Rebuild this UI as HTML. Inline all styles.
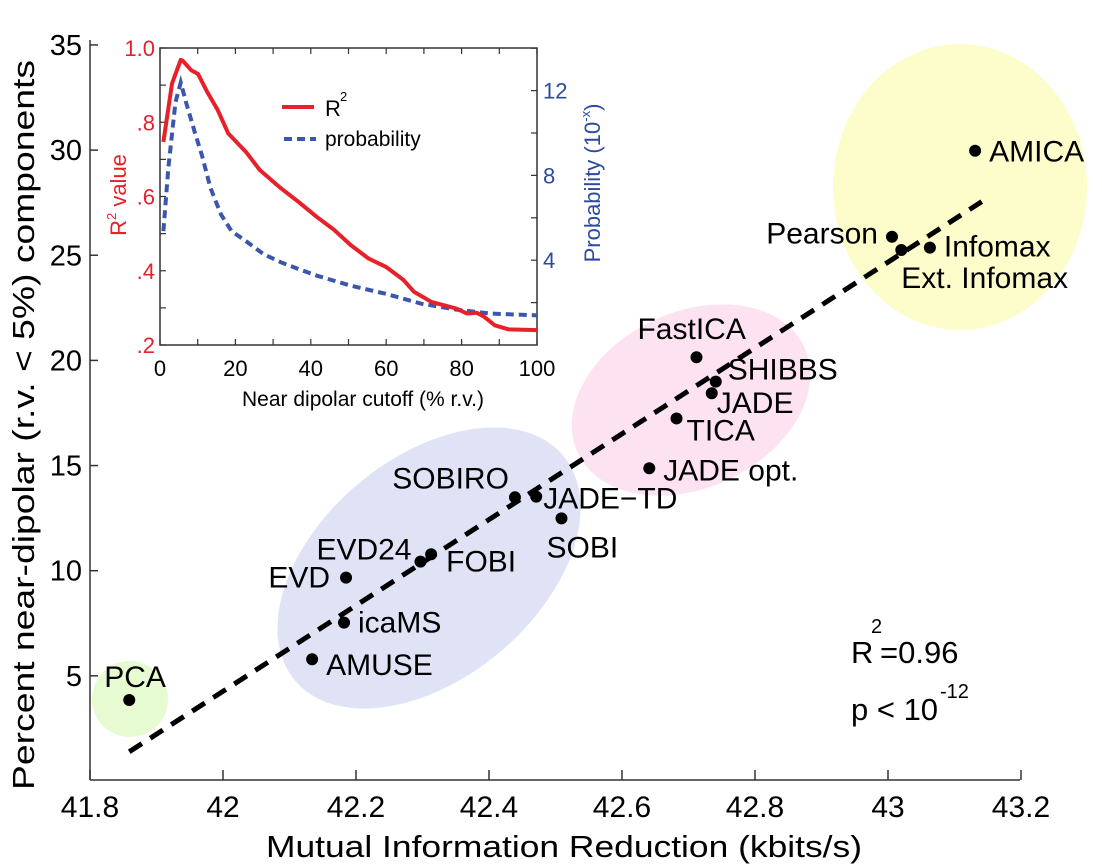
<!DOCTYPE html>
<html><head><meta charset="utf-8"><style>
html,body{margin:0;padding:0;background:#fff;}
svg{display:block;font-family:"Liberation Sans",Arial,sans-serif;}
</style></head><body>
<svg id="chart" width="1102" height="864" viewBox="0 0 1102 864" xmlns="http://www.w3.org/2000/svg">
<g id="clusters">
  <ellipse cx="960" cy="187" rx="127" ry="143" fill="#fdfdcb"/>
  <ellipse cx="691" cy="400" rx="125" ry="88" transform="rotate(-25 691 400)" fill="#fde2f2"/>
  <ellipse cx="429" cy="568" rx="175" ry="110" transform="rotate(-40 429 568)" fill="#dfe3f5"/>
  <ellipse cx="130" cy="699" rx="38" ry="38" fill="#e6fbd1"/>
</g>
<g id="main-axes"></g>
<g id="main-marks"></g>
<g id="inset"></g>
<text x="564" y="857" font-size="31" text-anchor="middle" fill="#000" textLength="596" lengthAdjust="spacingAndGlyphs">Mutual Information Reduction (kbits/s)</text>
<text transform="translate(34 425) rotate(-90)" font-size="31" text-anchor="middle" fill="#000" textLength="730" lengthAdjust="spacingAndGlyphs">Percent near-dipolar (r.v. &lt; 5%) components</text>
<g font-size="31" fill="#000">
  <text x="851" y="663">R</text>
  <text x="871" y="633" font-size="20">2</text>
  <text x="880" y="663">=0.96</text>
  <text x="851" y="720">p &lt; 10</text>
  <text x="940" y="698" font-size="20">-12</text>
</g>
</svg>
<script>
// ---- main scatter data ----
const methods = ["AMICA","Pearson","Ext. Infomax","Infomax","FastICA","SHIBBS","JADE","TICA","JADE opt.","PCA","AMUSE","icaMS","EVD","EVD24","FOBI","SOBIRO","JADE\u2212TD","SOBI"];
const mirValues = [43.131,43.006,43.020,43.063,42.712,42.741,42.735,42.682,42.641,41.859,42.134,42.182,42.185,42.297,42.313,42.439,42.471,42.509];
const dipolarValues = [29.97,25.88,25.25,25.36,20.15,18.99,18.44,17.24,14.87,3.85,5.79,7.53,9.67,10.43,10.78,13.49,13.52,12.49];
const fitX = [41.859,43.141];
const fitY = [1.39,27.55];
const xTicks = [41.8,42,42.2,42.4,42.6,42.8,43,43.2];
const xTickLabels = ["41.8","42","42.2","42.4","42.6","42.8","43","43.2"];
const yTicks = [5,10,15,20,25,30,35];
const yTickLabels = ["5","10","15","20","25","30","35"];
// ---- inset data ----
const r2Cutoff = [0.9,3.2,5.5,6,8.3,10.1,12.5,15.3,18.1,22.8,26.5,32.1,36.8,41.6,46.2,50.6,55.3,60,64.6,67.4,72,78.6,81.4,84,86,88.8,92.5,100];
const r2Values = [0.747,0.905,0.968,0.966,0.94,0.93,0.882,0.833,0.77,0.72,0.671,0.622,0.585,0.545,0.51,0.469,0.433,0.41,0.375,0.343,0.316,0.298,0.285,0.287,0.276,0.253,0.242,0.24];
const probCutoff = [0.9,2.2,4.1,5.5,6.9,9.2,11.1,13.4,16.2,19,22.8,27.5,32.1,36.8,41.6,50.6,60,69.3,78.6,87.9,100];
const probValues = [5.37,8.33,11.45,12.38,11.45,10.05,8.96,7.4,6.15,5.37,4.9,4.28,3.9,3.58,3.27,2.8,2.41,1.95,1.67,1.48,1.4];
const insetXTicks = [0,20,40,60,80,100];
const insetLeftTicks = [0.2,0.4,0.6,0.8,1.0];
const insetLeftLabels = [".2",".4",".6",".8","1.0"];
const insetRightTicks = [4,8,12];

const NS="http://www.w3.org/2000/svg";
function mk(tag, parent, attrs){const e=document.createElementNS(NS,tag);for(const k in attrs)e.setAttribute(k,attrs[k]);parent.appendChild(e);return e;}
const X=v=>90+(v-41.8)*665;
const Y=v=>781-v*21.03;
const IX=v=>160+v*3.77;
const IYL=v=>345-(v-0.2)*371.25;
const IYR=v=>345-v*21.2;

// label placements (layout only)
const labelLayout = [[14,11,"start"],[-14,7,"end"],[0,38,"start"],[14,9,"start"],[-59,-18,"start"],[12,-2,"start"],[5,20,"start"],[10,22,"start"],[14,12,"start"],[-25,-13,"start"],[14,16,"start"],[14,10,"start"],[-16,10,"end"],[-9,-2,"end"],[15,17,"start"],[-6,-9,"end"],[7,12,"start"],[-15,39,"start"]];

const ax=document.getElementById('main-axes');
let l=mk('line',ax,{x1:90,y1:780,x2:1020,y2:780,stroke:'#333','stroke-width':1.5});


l=mk('line',ax,{x1:90,y1:40,x2:90,y2:780,stroke:'#333','stroke-width':1.5});


xTicks.forEach((t,i)=>{
  const x=X(t);
  const tk=mk('line',ax,{x1:x,y1:780,x2:x,y2:770,stroke:'#333','stroke-width':1.5});
  
  
  const tx=mk('text',ax,{x:x,y:817,'font-size':30,'text-anchor':'middle',fill:'#000'});
  tx.textContent=xTickLabels[i];
  
  
});
yTicks.forEach((t,i)=>{
  const y=Y(t);
  const tk=mk('line',ax,{x1:90,y1:y,x2:98,y2:y,stroke:'#333','stroke-width':1.5});
  
  
  const tx=mk('text',ax,{x:82,y:y+10,'font-size':29,'text-anchor':'end',fill:'#000'});
  tx.textContent=yTickLabels[i];
  
  
});

const mm=document.getElementById('main-marks');
const fit=mk('line',mm,{x1:X(fitX[0]),y1:Y(fitY[0]),x2:X(fitX[1]),y2:Y(fitY[1]),stroke:'#000','stroke-width':5,'stroke-dasharray':'15 10'});


methods.forEach((m,i)=>{
  const cx=X(mirValues[i]), cy=Y(dipolarValues[i]);
  const c=mk('circle',mm,{cx:cx,cy:cy,r:6,fill:'#000'});
  
  
  const L=labelLayout[i];
  const t=mk('text',mm,{x:cx+L[0],y:cy+L[1],'font-size':30,'text-anchor':L[2],fill:'#000'});
  t.textContent=m;
  
  
});

// ---- inset ----
const ins=document.getElementById('inset');
const bg=mk('rect',ins,{x:160,y:48,width:377,height:297,fill:'#fff',stroke:'#333','stroke-width':1.5});


for(let v=0;v<=100;v+=10){
  const x=IX(v);
  const a=mk('line',ins,{x1:x,y1:345,x2:x,y2:339,stroke:'#333','stroke-width':1.2});
  
  
  const b=mk('line',ins,{x1:x,y1:48,x2:x,y2:54,stroke:'#333','stroke-width':1.2});
  
  
}
for(let v=0.2;v<=1.001;v+=0.1){
  const y=IYL(v);
  const a=mk('line',ins,{x1:160,y1:y,x2:166,y2:y,stroke:'#333','stroke-width':1.2});
  
  
}
for(let v=2;v<=14;v+=2){
  const y=IYR(v);
  const a=mk('line',ins,{x1:537,y1:y,x2:531,y2:y,stroke:'#333','stroke-width':1.2});
  
  
}
insetXTicks.forEach(v=>{
  const t=mk('text',ins,{x:IX(v),y:376,'font-size':22,'text-anchor':'middle',fill:'#000'});
  t.textContent=String(v);
  
  
});
insetLeftTicks.forEach((v,i)=>{
  const t=mk('text',ins,{x:155,y:IYL(v)+8,'font-size':22,'text-anchor':'end',fill:'#e8202a'});
  t.textContent=insetLeftLabels[i];
  
  
});
insetRightTicks.forEach(v=>{
  const t=mk('text',ins,{x:543,y:IYR(v)+8,'font-size':22,'text-anchor':'start',fill:'#2b4aa0'});
  t.textContent=String(v);
  
  
});
const pp=mk('polyline',ins,{points:probCutoff.map((c,i)=>IX(c)+','+IYR(probValues[i])).join(' '),fill:'none',stroke:'#3a56ad','stroke-width':4,'stroke-dasharray':'8 5'});


const rp=mk('polyline',ins,{points:r2Cutoff.map((c,i)=>IX(c)+','+IYL(r2Values[i])).join(' '),fill:'none',stroke:'#e8202a','stroke-width':4,'stroke-linejoin':'round'});


</script>
<script>
const ins2=document.getElementById('inset');
function mk2(tag,attrs,html){const e=document.createElementNS("http://www.w3.org/2000/svg",tag);for(const k in attrs)e.setAttribute(k,attrs[k]);if(html)e.innerHTML=html;ins2.appendChild(e);return e;}
let e;
e=mk2('line',{x1:282,y1:107,x2:314,y2:107,stroke:'#e8202a','stroke-width':4});


e=mk2('text',{x:325,y:116,'font-size':22,fill:'#000'},'R');


e=mk2('text',{x:340,y:101,'font-size':13,fill:'#000'},'2');


e=mk2('line',{x1:284,y1:139,x2:316,y2:139,stroke:'#3a56ad','stroke-width':4,'stroke-dasharray':'8 5'});


e=mk2('text',{x:325,y:146,'font-size':21,fill:'#000'},'probability');


e=mk2('text',{x:363,y:406,'font-size':21,'text-anchor':'middle',fill:'#000'},'Near dipolar cutoff (% r.v.)');


e=mk2('text',{transform:'translate(126 195) rotate(-90)','font-size':22,'text-anchor':'middle',fill:'#e8202a'},'R<tspan font-size="13" dy="-10">2</tspan><tspan dy="10"> value</tspan>');


e=mk2('text',{transform:'translate(600 183) rotate(-90)','font-size':22,'text-anchor':'middle',fill:'#2b4aa0'},'Probability  (10<tspan font-size="13" dy="-10">-x</tspan><tspan dy="10">)</tspan>');


</script>
</body></html>
